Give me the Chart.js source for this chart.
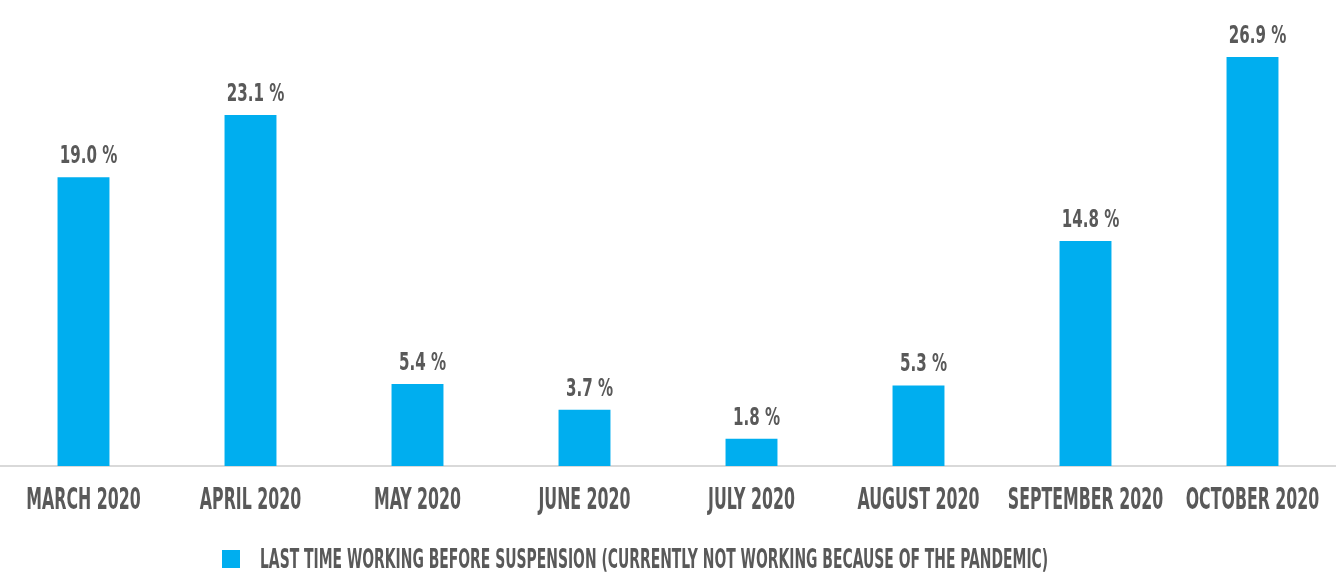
<!DOCTYPE html>
<html>
<head>
<meta charset="utf-8">
<script src="https://cdn.jsdelivr.net/npm/chart.js@4/dist/chart.umd.min.js"></script>
<style>
html,body{margin:0;padding:0;background:#fff;}
#wrap{width:1336px;height:572px;position:relative;}
</style>
</head>
<body>
<div id="wrap"><canvas id="c"></canvas></div>
<script>
const months=["MARCH 2020","APRIL 2020","MAY 2020","JUNE 2020","JULY 2020","AUGUST 2020","SEPTEMBER 2020","OCTOBER 2020"];
const suspended=[19.0,23.1,5.4,3.7,1.8,5.3,14.8,26.9];
const seriesName="LAST TIME WORKING BEFORE SUSPENSION (CURRENTLY NOT WORKING BECAUSE OF THE PANDEMIC)";

const FONT="'DejaVu Sans Condensed','Liberation Sans Narrow',sans-serif";
const GREY="#595959";
const BLUE="#00AEEF";

// the original face is very narrow, so squeeze the text horizontally
function narrowText(ctx,txt,x,y,align,squeeze){
ctx.save();
ctx.translate(x,y);
ctx.scale(squeeze,1);
ctx.textAlign=align;
ctx.fillText(txt,0,0);
ctx.restore();
}

const textLayer={
id:"textLayer",
afterDatasetsDraw(chart){
const ctx=chart.ctx;
const meta=chart.getDatasetMeta(0);
const xs=chart.scales.x;
ctx.save();
ctx.fillStyle=GREY;
ctx.textBaseline="alphabetic";
// values over bars
ctx.font="bold 25px "+FONT;
meta.data.forEach((bar,i)=>{
narrowText(ctx,suspended[i].toFixed(1)+" %",bar.x+5,bar.y-14,"center",0.67);
});
// category labels
ctx.font="bold 30px "+FONT;
months.forEach((m,i)=>{
narrowText(ctx,m,xs.getPixelForTick(i),chart.chartArea.bottom+43,"center",0.585);
});
// legend
ctx.fillStyle=BLUE;
ctx.fillRect(222,550,18,18);
ctx.fillStyle=GREY;
ctx.font="bold 26px "+FONT;
narrowText(ctx,seriesName,260,568,"left",0.595);
ctx.restore();
}
};

new Chart(document.getElementById("c"),{
type:"bar",
data:{labels:months,
datasets:[{label:seriesName,data:suspended,backgroundColor:BLUE,
categoryPercentage:1,barPercentage:0.311}]},
options:{
responsive:true,maintainAspectRatio:false,animation:false,
layout:{padding:{top:10,left:0,right:0,bottom:98}},
plugins:{tooltip:{enabled:false},legend:{display:false}},
scales:{
y:{display:false,min:0,max:30},
x:{grid:{display:false},
border:{color:"#d9d9d9",width:2},
ticks:{display:false}}
}
},
plugins:[textLayer]
});
</script>
</body>
</html>
